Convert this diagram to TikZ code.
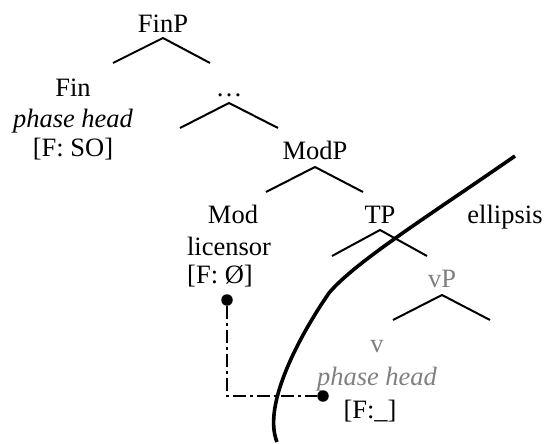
\documentclass[tikz,border=0pt]{standalone}
\usepackage{fontspec}
\setmainfont{Liberation Serif}
\definecolor{phasegray}{RGB}{128,128,128}
\begin{document}
\begin{tikzpicture}[x=1pt,y=-1pt,
  lab/.style={anchor=base,inner sep=0pt,font=\fontsize{26.5}{30}\selectfont},
  glab/.style={lab,text=phasegray},
  branch/.style={line width=2pt},
  elcurve/.style={line width=3.6pt},
  agree/.style={line width=2.7pt,dash pattern=on 13pt off 4pt on 3pt off 4pt},
  blob/.style={circle,fill=black,inner sep=0pt,minimum size=11.5pt}]
\useasboundingbox (0,0) rectangle (547,444);
% labels
\node[lab] (finp) at (163,33) {FinP};
\node[lab] (fin) at (73,97) {Fin};
\node[lab] (finph) at (73,128) {\itshape phase head};
\node[lab] (finf) at (73,157) {[F: SO]};
\node[lab] (dots) at (229,97) {\ldots};
\node[lab] (modp) at (315,160) {ModP};
\node[lab] (mod) at (233,223) {Mod};
\node[lab] (lic) at (229,255) {licensor};
\node[lab] (modf) at (220,283) {[F: Ø]};
\node[lab] (tp) at (380,223) {TP};
\node[lab] (ell) at (505,223) {ellipsis};
\node[glab] (vp) at (442,287) {vP};
\node[glab] (v) at (377,352) {v};
\node[glab] (vph) at (377,385) {\itshape phase head};
\node[lab] (vf) at (370,418) {[F:\_]};
% branch points
\coordinate (finpL) at (113,63); \coordinate (finpR) at (210,63);
\coordinate (dotsL) at (180,128); \coordinate (dotsR) at (278,128);
\coordinate (modpL) at (266,192); \coordinate (modpR) at (363,192);
\coordinate (tpL) at (332,256); \coordinate (tpR) at (427,256);
\coordinate (vpL) at (393,320); \coordinate (vpR) at (490,320);
\draw[branch] (finpL) -- ([yshift=-5pt]finp.base) -- (finpR);
\draw[branch] (dotsL) -- ([yshift=-6pt]dots.base) -- (dotsR);
\draw[branch] (modpL) -- ([yshift=-7pt]modp.base) -- (modpR);
\draw[branch] (tpL) -- ([yshift=-7pt]tp.base) -- (tpR);
\draw[branch] (vpL) -- ([yshift=-8pt]vp.base) -- (vpR);
% ellipsis boundary
\coordinate (cTop) at (515,156);
\coordinate (cMid) at (329,293);
\coordinate (cBot) at (277,442);
\draw[elcurve] (cTop) .. controls (430,215) and (355,262) .. (cMid)
  .. controls (300,335) and (262,405) .. (cBot);
% agreement path
\node[blob] (d1) at (227,300) {};
\node[blob] (d2) at (323,396) {};
\coordinate (corner) at (227,396);
\draw[agree] (d1) -- (corner) -- (d2);
\end{tikzpicture}
\end{document}
